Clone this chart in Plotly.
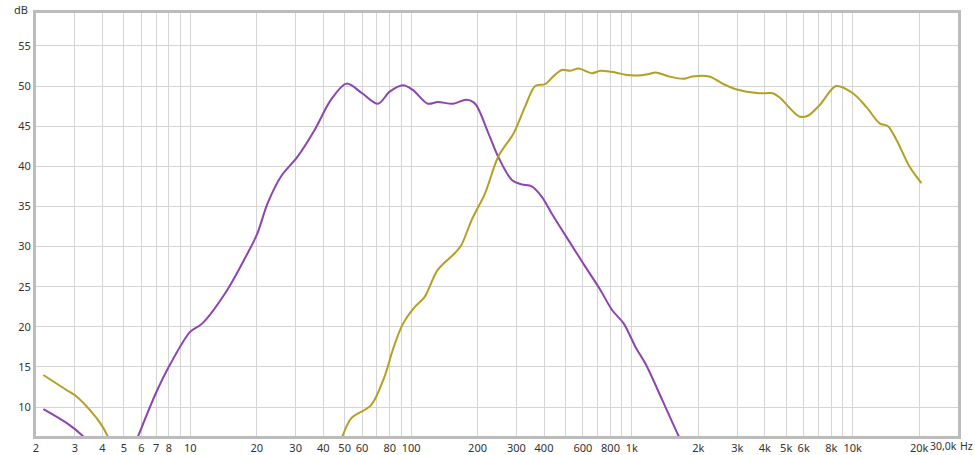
import math
import plotly.graph_objects as go

# ---- data ----
purple_lo_f = [2.16, 2.76, 3.23, 3.6]
purple_lo_db = [9.75, 8.0, 6.5, 5.0]

gold_lo_f = [2.16, 2.76, 3.06, 3.52, 3.91, 4.2, 4.4]
gold_lo_db = [14.0, 12.1, 11.3, 9.6, 8.0, 6.5, 5.0]

purple_f = [5.65, 5.83, 7.08, 8.13, 10, 11.3, 14.7, 18.2, 20.1, 22.4, 25.7, 30.6, 36.5, 43.4,
            51, 60, 70.8, 80, 91.9, 102, 119, 132, 155, 178, 195, 224, 248, 286, 317, 352,
            391, 434, 516, 615, 720, 813, 919, 1038, 1153, 1372, 1622, 1700]
purple_db = [5.5, 6.5, 12.1, 15.4, 19.4, 20.4, 24.6, 29.2, 31.6, 35.4, 38.7, 41.2, 44.5, 48.3,
             50.3, 49.1, 47.8, 49.3, 50.1, 49.5, 47.8, 48.0, 47.8, 48.3, 47.8, 44.1, 41.2, 38.3, 37.75, 37.5,
             36.2, 34.1, 30.8, 27.5, 24.6, 22.1, 20.4, 17.5, 15.4, 10.9, 6.5, 5.5]

gold_f = [47, 49.1, 53.5, 65.9, 75.8, 83, 91.9, 104, 115, 132, 158, 169, 188, 216, 248, 291, 328,
          365, 405, 440, 482, 526, 574, 660, 720, 841, 935, 1038, 1194, 1281, 1473, 1722, 1880,
          2240, 2573, 2960, 3777, 4346, 4660, 5740, 6265, 7080, 8420, 10020, 11530, 13250,
          14450, 15780, 18150, 20480]
gold_db = [5.0, 6.5, 8.6, 10.25, 13.8, 17.3, 20.4, 22.5, 23.7, 27.1, 29.2, 30.2, 33.3, 36.6, 41.2, 44.1, 47.4,
           50.0, 50.25, 51.2, 52.0, 51.9, 52.2, 51.6, 51.9, 51.7, 51.4, 51.3, 51.5, 51.7, 51.2, 50.9, 51.2,
           51.2, 50.3, 49.6, 49.1, 49.1, 48.6, 46.2, 46.3, 47.6, 50.0, 49.1, 47.4, 45.35,
           45.0, 43.3, 39.9, 37.9]

x_grid = [2, 3, 4, 5, 6, 7, 8, 9,
          10, 20, 30, 40, 50, 60, 70, 80, 90,
          100, 200, 300, 400, 500, 600, 700, 800, 900,
          1000, 2000, 3000, 4000, 5000, 6000, 7000, 8000, 9000,
          10000, 20000]
x_labels = ["2", "3", "4", "5", "6", "7", "8", "",
            "10", "20", "30", "40", "50", "60", "", "80", "",
            "100", "200", "300", "400", "", "600", "", "800", "",
            "1k", "2k", "3k", "4k", "5k", "6k", "", "8k", "",
            "10k", "20k"]
y_ticks = [10, 15, 20, 25, 30, 35, 40, 45, 50, 55]

PURPLE = "#8a45b0"
GOLD = "#b59f22"

fig = go.Figure()
line_kw = dict(shape="spline", smoothing=0.9, width=2)
fig.add_trace(go.Scatter(x=purple_lo_f, y=purple_lo_db, mode="lines",
                         line=dict(color=PURPLE, **line_kw), showlegend=False, hoverinfo="skip"))
fig.add_trace(go.Scatter(x=gold_lo_f, y=gold_lo_db, mode="lines",
                         line=dict(color=GOLD, **line_kw), showlegend=False, hoverinfo="skip"))
fig.add_trace(go.Scatter(x=purple_f, y=purple_db, mode="lines",
                         line=dict(color=PURPLE, **line_kw), showlegend=False, hoverinfo="skip"))
fig.add_trace(go.Scatter(x=gold_f, y=gold_db, mode="lines",
                         line=dict(color=GOLD, **line_kw), showlegend=False, hoverinfo="skip"))

end_font = dict(size=10.5, color="#333333")
fig.update_layout(
    width=975, height=455,
    margin=dict(l=36, r=17, t=13, b=19),
    paper_bgcolor="white", plot_bgcolor="white",
    font=dict(family="Noto Sans, Open Sans, sans-serif", size=11, color="#333333"),
    xaxis=dict(type="log", range=[math.log10(2), math.log10(30000)],
               tickmode="array", tickvals=x_grid, ticktext=x_labels,
               showgrid=True, gridcolor="#d4d4d4", gridwidth=1,
               showline=True, linecolor="#bcbcbc", linewidth=3, mirror=True,
               ticks="", zeroline=False, fixedrange=True, automargin=False),
    yaxis=dict(range=[6.4, 59.1], tickmode="array", tickvals=y_ticks,
               showgrid=True, gridcolor="#d4d4d4", gridwidth=1,
               showline=True, linecolor="#bcbcbc", linewidth=3, mirror=True,
               ticks="", zeroline=False, fixedrange=True, automargin=False),
    annotations=[
        dict(text="dB", xref="paper", yref="paper", x=-0.007, y=1.0, xanchor="right",
             yanchor="top", showarrow=False, font=dict(size=11, color="#333333"), yshift=13),
        dict(text="30,0k", xref="paper", yref="paper", x=0.9848, y=0,
             xanchor="center", yanchor="top", showarrow=False,
             font=end_font, yshift=-1),
        dict(text="Hz", xref="paper", yref="paper", x=1.0185, y=0,
             xanchor="right", yanchor="top", showarrow=False,
             font=end_font, yshift=-1),
    ],
)

fig.write_html("out.html", config={"displayModeBar": False},
               post_script="document.body.style.margin='0px';")
